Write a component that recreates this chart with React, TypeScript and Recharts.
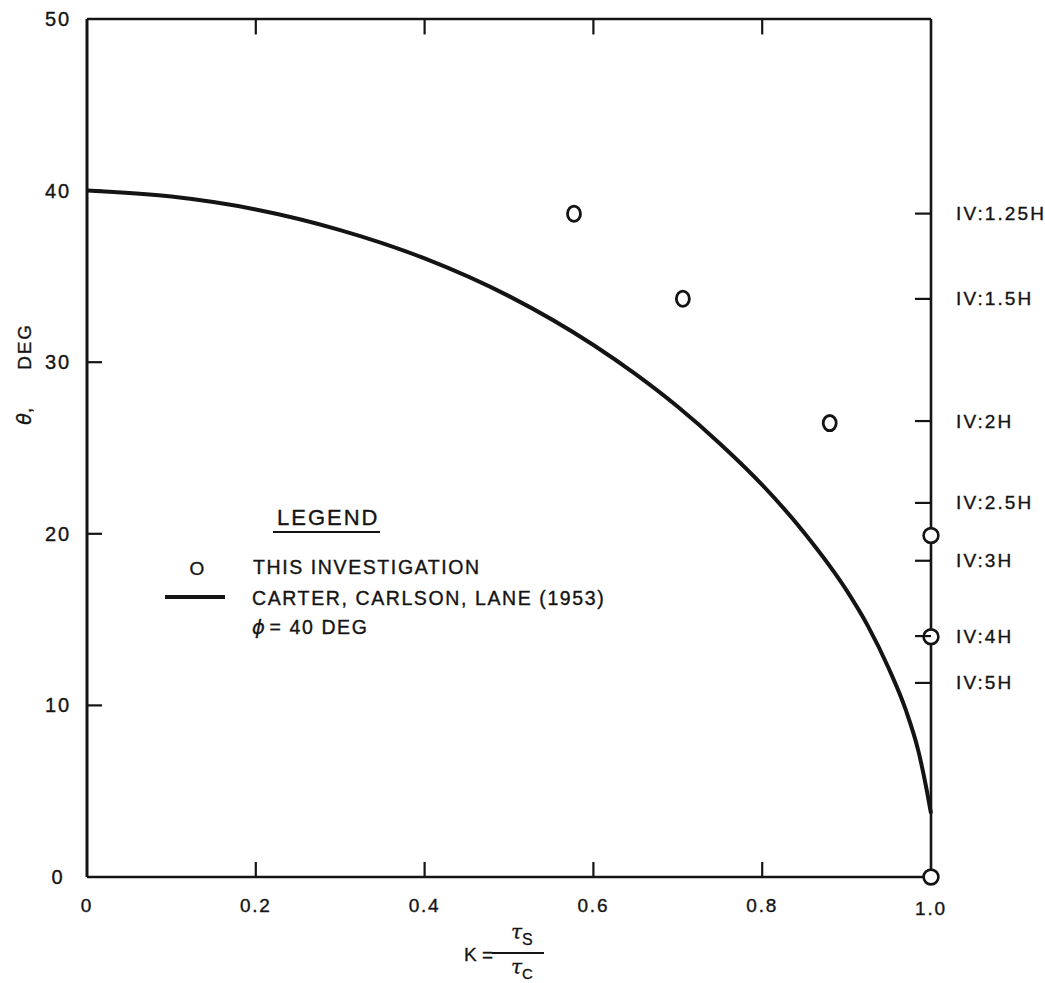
import React from 'react';
import {
  ComposedChart,
  Line,
  Scatter,
  XAxis,
  YAxis,
  ReferenceLine,
  Legend,
  Label,
} from 'recharts';

// Carter, Carlson, Lane (1953) theoretical curve, phi = 40 deg
const curveK = [0, 0.1, 0.2, 0.3, 0.4, 0.5, 0.6, 0.65, 0.7, 0.75, 0.8, 0.85, 0.9, 0.925, 0.95, 0.97, 0.985, 0.995, 1.0];
const curveTheta = [40.0, 39.65, 38.9, 37.7, 36.05, 33.85, 31.0, 29.3, 27.4, 25.25, 22.85, 20.05, 16.7, 14.65, 12.15, 9.75, 7.35, 5.05, 3.7];

// This investigation: points inside the plot
const testK = [0.577, 0.706, 0.88];
const testTheta = [38.65, 33.7, 26.45];

// This investigation: points lying on K = 1.0
const edgeK = [1.0, 1.0, 1.0];
const edgeTheta = [19.9, 14.0, 0];

// Axis ticks
const xTicks = [0, 0.2, 0.4, 0.6, 0.8, 1.0];
const xTickLabels = ['0', '0.2', '0.4', '0.6', '0.8', '1.0'];
const yTicks = [0, 10, 20, 30, 40, 50];
const yTickLabels = ['0', '10', '20', '30', '40', '50'];

// Slope ratios marked on the right-hand edge (angle in degrees)
const slopeLabels = ['IV:1.25H', 'IV:1.5H', 'IV:2H', 'IV:2.5H', 'IV:3H', 'IV:4H', 'IV:5H'];
const slopeAngles = [38.66, 33.69, 26.57, 21.8, 18.43, 14.04, 11.31];

const curveData = curveK.map((k, i) => ({ k, theta: curveTheta[i] }));
const testData = testK.map((k, i) => ({ k, theta: testTheta[i] }));
const edgeData = edgeK.map((k, i) => ({ k, theta: edgeTheta[i] }));

const W = 1045;
const H = 983;
const INK = '#141414';
const FONT = '"Liberation Sans", Arial, Helvetica, sans-serif';

const X_MARGIN = 28;
const Y_MARGIN = 29;
const S_MARGIN = 25;
const TICK_LEN = 15;

const textStyle = {
  fill: INK,
  stroke: INK,
  strokeWidth: 0.35,
  fontFamily: FONT,
  fontSize: 19,
  letterSpacing: 1.8,
};

function BottomTick(props: any) {
  const { x, y, payload } = props;
  const v = payload.value;
  const idx = xTicks.indexOf(v);
  const base = y - X_MARGIN;
  return (
    <g>
      {v > 0 && v < 1 && (
        <line x1={x} y1={base} x2={x} y2={base - TICK_LEN} stroke={INK} strokeWidth={2.2} />
      )}
      <text x={x} y={y + (v === 1 ? 3 : 0)} textAnchor="middle" dominantBaseline="central" {...textStyle}>
        {idx >= 0 ? xTickLabels[idx] : String(v)}
      </text>
    </g>
  );
}

function LeftTick(props: any) {
  const { x, y, payload } = props;
  const v = payload.value;
  const idx = yTicks.indexOf(v);
  const base = x + Y_MARGIN;
  return (
    <g>
      {v > 0 && v < 50 && (
        <line x1={base} y1={y} x2={base + TICK_LEN} y2={y} stroke={INK} strokeWidth={2.2} />
      )}
      <text x={x} y={y} textAnchor="middle" dominantBaseline="central" {...textStyle} fontSize={20} letterSpacing={2}>
        {idx >= 0 ? yTickLabels[idx] : String(v)}
      </text>
    </g>
  );
}

function SlopeTick(props: any) {
  const { x, y, index } = props;
  const base = x - S_MARGIN;
  const label = slopeLabels[index] ?? '';
  return (
    <g>
      <line x1={base} y1={y} x2={base - 16} y2={y} stroke={INK} strokeWidth={2.2} />
      <text x={x} y={y} textAnchor="start" dominantBaseline="central" {...textStyle} letterSpacing={2.1}>
        {label}
      </text>
    </g>
  );
}

function OvalMark(props: any) {
  const { cx, cy } = props;
  return <ellipse cx={cx} cy={cy} rx={6.5} ry={7.6} fill="none" stroke={INK} strokeWidth={2.8} />;
}

function EdgeMark(props: any) {
  const { cx, cy } = props;
  return <circle cx={cx} cy={cy} r={7.4} fill="#fff" stroke={INK} strokeWidth={2.6} />;
}

function YTitle(props: any) {
  const vb = props.viewBox || { x: 0, y: 19 };
  const cx = vb.x + 24;
  const cy = vb.y + 355;
  return (
    <text
      transform={`rotate(-90 ${cx} ${cy})`}
      x={cx}
      y={cy}
      textAnchor="middle"
      dominantBaseline="central"
      fill={INK}
      stroke={INK}
      strokeWidth={0.35}
      fontFamily={FONT}
      fontSize={19}
    >
      <tspan fontStyle="italic" fontFamily="'DejaVu Sans', sans-serif">θ</tspan>
      <tspan>,</tspan>
      <tspan dx={38} letterSpacing={1.8}>DEG</tspan>
    </text>
  );
}

function XTitle(props: any) {
  const vb = props.viewBox || { x: 87, y: 877 };
  const ox = vb.x;
  const oy = vb.y - 3;
  return (
    <g fill={INK} stroke={INK} strokeWidth={0.3} fontFamily={FONT}>
      <text x={ox + 377} y={oy + 80} dominantBaseline="central" fontSize={19}>K =</text>
      <line x1={ox + 405} y1={oy + 79} x2={ox + 457} y2={oy + 79} stroke={INK} strokeWidth={2.2} />
      <text x={ox + 424} y={oy + 58} dominantBaseline="central" fontSize={20} fontStyle="italic" fontFamily="'DejaVu Serif', serif">τ</text>
      <text x={ox + 435} y={oy + 65} dominantBaseline="central" fontSize={16}>S</text>
      <text x={ox + 424} y={oy + 93} dominantBaseline="central" fontSize={20} fontStyle="italic" fontFamily="'DejaVu Serif', serif">τ</text>
      <text x={ox + 435} y={oy + 99} dominantBaseline="central" fontSize={15}>C</text>
    </g>
  );
}

function LegendBox() {
  return (
    <svg width={W} height={H} style={{ display: 'block', overflow: 'visible' }}>
      <g fill={INK} stroke={INK} strokeWidth={0.35} fontFamily={FONT}>
        <text x={277} y={517} dominantBaseline="central" fontSize={22} letterSpacing={2}>LEGEND</text>
        <line x1={273} y1={532} x2={380} y2={532} stroke={INK} strokeWidth={2} />
        <text x={197} y={568} textAnchor="middle" dominantBaseline="central" fontSize={19}>O</text>
        <text x={253} y={567} dominantBaseline="central" fontSize={19.5} letterSpacing={1.6}>THIS INVESTIGATION</text>
        <line x1={165} y1={597} x2={225} y2={597} stroke={INK} strokeWidth={4} />
        <text x={252} y={598} dominantBaseline="central" fontSize={19.5} letterSpacing={1.6}>CARTER, CARLSON, LANE (1953)</text>
        <text x={252} y={627} dominantBaseline="central" fontSize={19.5} letterSpacing={1.6}>
          <tspan fontStyle="italic" fontFamily="'DejaVu Sans', sans-serif">ϕ</tspan>
          <tspan dx={3}>= 40 DEG</tspan>
        </text>
      </g>
    </svg>
  );
}

export default function App() {
  return (
    <div style={{ position: 'absolute', left: 0, top: 0, width: W, height: H, background: '#fff' }}>
      <ComposedChart width={W} height={H} margin={{ top: 19, right: 0, bottom: 0, left: 0 }}>
        <XAxis
          dataKey="k"
          type="number"
          domain={[0, 1]}
          ticks={xTicks}
          interval={0}
          height={106}
          tickSize={0}
          tickMargin={X_MARGIN}
          tickLine={false}
          axisLine={{ stroke: INK, strokeWidth: 2.6 }}
          tick={<BottomTick />}
        >
          <Label content={<XTitle />} />
        </XAxis>
        <YAxis
          type="number"
          domain={[0, 50]}
          ticks={yTicks}
          interval={0}
          width={87}
          tickSize={0}
          tickMargin={Y_MARGIN}
          tickLine={false}
          axisLine={{ stroke: INK, strokeWidth: 3 }}
          tick={<LeftTick />}
        >
          <Label content={<YTitle />} />
        </YAxis>
        <YAxis
          yAxisId="slope"
          orientation="right"
          type="number"
          domain={[0, 50]}
          ticks={slopeAngles}
          interval={0}
          width={114}
          tickSize={0}
          tickMargin={S_MARGIN}
          tickLine={false}
          axisLine={{ stroke: INK, strokeWidth: 2.6 }}
          tick={<SlopeTick />}
          allowDataOverflow
        />
        <ReferenceLine y={50} stroke={INK} strokeWidth={2.4} />
        {xTicks
          .filter((k) => k > 0 && k < 1)
          .map((k) => (
            <ReferenceLine
              key={`top-${k}`}
              segment={[
                { x: k, y: 50 },
                { x: k, y: 49.1 },
              ]}
              stroke={INK}
              strokeWidth={2.2}
            />
          ))}
        <Line
          data={curveData}
          dataKey="theta"
          type="monotone"
          stroke={INK}
          strokeWidth={4}
          dot={false}
          activeDot={false}
          isAnimationActive={false}
        />
        <Scatter data={testData} dataKey="theta" shape={<OvalMark />} isAnimationActive={false} />
        <Scatter data={edgeData} dataKey="theta" shape={<EdgeMark />} isAnimationActive={false} />
        <Legend
          layout="vertical"
          align="center"
          verticalAlign="middle"
          content={<LegendBox />}
          wrapperStyle={{ position: 'absolute', left: 0, top: 0, width: W, height: H, pointerEvents: 'none' }}
        />
      </ComposedChart>
    </div>
  );
}
